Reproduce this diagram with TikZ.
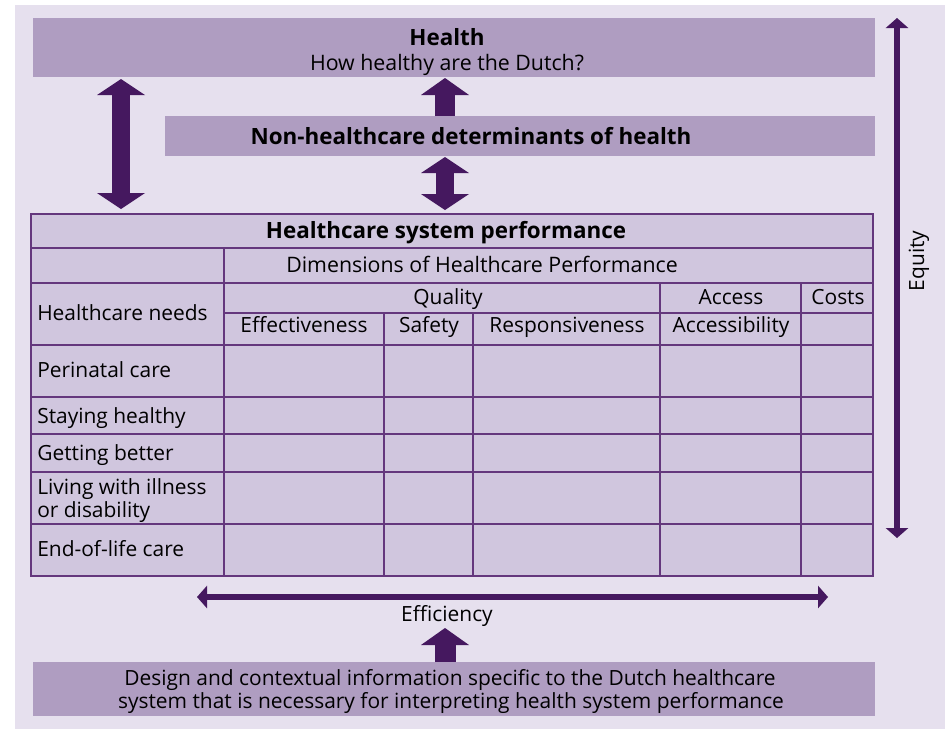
\documentclass[tikz,border=0pt]{standalone}
\usepackage{fontspec}
\setmainfont{Open Sans}
\usetikzlibrary{arrows.meta}
\definecolor{bgc}{RGB}{230,224,238}
\definecolor{boxc}{RGB}{175,157,193}
\definecolor{tabc}{RGB}{208,198,222}
\definecolor{arrc}{RGB}{69,24,95}
\definecolor{linec}{RGB}{100,55,125}
\begin{document}
\begin{tikzpicture}[x=0.75pt,y=-0.75pt,
  boxn/.style={fill=boxc,draw=none,inner sep=0pt,outer sep=0pt},
  txt/.style={inner sep=0pt,anchor=base,font=\fontsize{15.7}{18.5}\selectfont},
  wtxt/.style={inner sep=0pt,anchor=base,font=\fontsize{16}{19}\selectfont},
  btxt/.style={inner sep=0pt,anchor=base,font=\fontsize{16.8}{20}\selectfont\bfseries},
  ltxt/.style={txt,anchor=base west},
  bigarrow/.style={draw=arrc,line width=15pt,
    -{Triangle[length=12.75pt,width=36pt,line width=0pt]}},
  bigdouble/.style={draw=arrc,line width=13.5pt,
    {Triangle[length=12pt,width=36pt,line width=0pt]}-{Triangle[length=12pt,width=36pt,line width=0pt]}},
  thinarrow/.style={draw=arrc,line width=4.5pt,
    {Triangle[length=7.5pt,width=17pt,line width=0pt]}-{Triangle[length=7.5pt,width=17pt,line width=0pt]}},
  grid/.style={draw=linec,line width=1.3pt}
]
\useasboundingbox (0,0) rectangle (945,729);
\fill[white] (0,0) rectangle (945,729);
\fill[bgc] (15,5) rectangle (945,729);

% boxes
\node[boxn,minimum width=631.5pt,minimum height=44.25pt] (health) at (454,47.5) {};
\node[boxn,minimum width=532.5pt,minimum height=30pt] (nonhc) at (520,136) {};
\node[boxn,minimum width=631.5pt,minimum height=40.5pt] (design) at (454,689) {};
\node[fill=tabc,draw=linec,line width=1.3pt,inner sep=0pt,outer sep=0pt,
      minimum width=631.5pt,minimum height=271.5pt] (table) at (452,395) {};

% table grid
\draw[grid] (31,248) -- (873,248);
\draw[grid] (31,283) -- (873,283);
\draw[grid] (224,313) -- (873,313);
\draw[grid] (31,345) -- (873,345);
\draw[grid] (31,397) -- (873,397);
\draw[grid] (31,434) -- (873,434);
\draw[grid] (31,472) -- (873,472);
\draw[grid] (31,524) -- (873,524);
\draw[grid] (224,248) -- (224,576);
\draw[grid] (384,313) -- (384,576);
\draw[grid] (473,313) -- (473,576);
\draw[grid] (660,283) -- (660,576);
\draw[grid] (801,283) -- (801,576);

% texts
\node[btxt] (thealth) at (447,45) {Health};
\node[wtxt] (tq) at (447,70) {How healthy are the Dutch?};
\node[btxt] (tnon) at (471,144) {Non-healthcare determinants of health};
\node[btxt] (tperf) at (446,238) {Healthcare system performance};
\node[wtxt] (tdim) at (482,272) {Dimensions of Healthcare Performance};
\node[txt] (tqual) at (448,304) {Quality};
\node[txt] (tacc) at (731,304) {Access};
\node[txt] (tcost) at (838,304) {Costs};
\node[ltxt] (tneeds) at (37,320) {Healthcare needs};
\node[txt] (teff) at (304,332) {Effectiveness};
\node[txt] (tsaf) at (429,332) {Safety};
\node[txt] (tresp) at (567,332) {Responsiveness};
\node[txt] (taccb) at (731,332) {Accessibility};
\node[ltxt] (r1) at (37,377) {Perinatal care};
\node[ltxt] (r2) at (37,423) {Staying healthy};
\node[ltxt] (r3) at (37,460) {Getting better};
\node[ltxt] (r4a) at (37,494) {Living with illness};
\node[ltxt] (r4b) at (37,517) {or disability};
\node[ltxt] (r5) at (37,556) {End-of-life care};
\node[txt,rotate=90] (tequity) at (924,261) {Equity};
\node[txt] (teffic) at (447,621) {Efficiency};
\node[txt] (td1) at (450,685) {Design and contextual information specific to the Dutch healthcare};
\node[txt] (td2) at (451,708) {system that is necessary for interpreting health system performance};

% arrows
\coordinate (cx) at (445,0);
\coordinate (lx) at (121,0);
\draw[bigarrow] (nonhc.north -| cx) -- ([yshift=-0.75pt]health.south -| cx);
\draw[bigdouble,shorten <=1.5pt,shorten >=3.75pt] (health.south -| lx) -- (table.north -| lx);
\draw[bigdouble,shorten <=0.75pt,shorten >=3pt] (nonhc.south -| cx) -- (table.north -| cx);
\draw[bigarrow,line width=15.75pt] (design.north -| cx) -- ++(0,-34);
\coordinate (eqtop) at (897,18);
\coordinate (eqbot) at (897,538);
\draw[thinarrow] (eqbot) -- (eqtop);
\coordinate (efl) at (197,597);
\coordinate (efr) at (828,597);
\draw[thinarrow] (efl) -- (efr);
\end{tikzpicture}
\end{document}
